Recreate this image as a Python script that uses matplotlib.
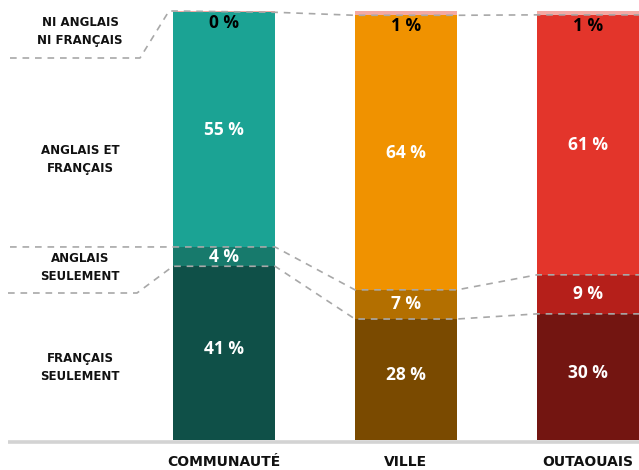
import matplotlib
matplotlib.use("Agg")
import matplotlib.pyplot as plt
import numpy as np

# data (share of population, %)
categories = ["COMMUNAUTÉ", "VILLE", "OUTAOUAIS"]
francais = [40.5, 28.2, 29.4]
anglais = [4.5, 6.8, 9.1]
les_deux = [54.7, 64.0, 60.6]
aucun = [0.3, 1.0, 0.9]

lbl_fr = ["41 %", "28 %", "30 %"]
lbl_en = ["4 %", "7 %", "9 %"]
lbl_both = ["55 %", "64 %", "61 %"]
lbl_none = ["0 %", "1 %", "1 %"]

row_labels = ["FRANÇAIS\nSEULEMENT", "ANGLAIS\nSEULEMENT",
              "ANGLAIS ET\nFRANÇAIS", "NI ANGLAIS\nNI FRANÇAIS"]

col_fr = ["#0f5048", "#7a4a00", "#731511"]
col_en = ["#177a6c", "#b36f00", "#b51f1a"]
col_both = ["#1ba394", "#f09200", "#e3352b"]
col_none = "#f4a9a3"

W, H = 639, 470
fig = plt.figure(figsize=(W / 100, H / 100), dpi=100)
ax = fig.add_axes([0, 0, 1, 1])
ax.set_axis_off()

px = 182.0          # pixels per category unit
py = 4.29           # pixels per percent
x0 = 224.0          # pixel x of first bar centre
y0 = 440.0          # pixel y of baseline
ax.set_xlim(-x0 / px, (W - x0) / px)
ax.set_ylim((y0 - H) / py, y0 / py)

xs = np.arange(len(categories))
bw = 102 / px
fr = np.array(francais)
en = np.array(anglais)
both = np.array(les_deux)
none = np.array(aucun)

ax.bar(xs, fr, bw, color=col_fr, zorder=2)
ax.bar(xs, en, bw, bottom=fr, color=col_en, zorder=2)
ax.bar(xs, both, bw, bottom=fr + en, color=col_both, zorder=2)
ax.bar(xs, none, bw, bottom=fr + en + both, color=col_none, zorder=2)

# baseline
ax.plot([(8 - x0) / px, (W - x0) / px], [-0.55, -0.55], color="#d3d3d3",
        lw=2.6, solid_capstyle="butt", zorder=1)

# dashed connectors between segment boundaries
dash = dict(color="#a8a8a8", lw=1.2, dashes=(4, 3.5), zorder=3)
right_end = (W - x0) / px


def connector(levels):
    xx, yy = [], []
    for i, lv in enumerate(levels):
        xx += [xs[i] - bw / 2, xs[i] + bw / 2]
        yy += [lv, lv]
    xx[-1] = right_end
    return xx, yy


top_lv = fr + en + both
mid_lv = fr + en
low_lv = fr

xx, yy = connector(top_lv)
xx = [(10 - x0) / px, (140 - x0) / px, (169 - x0) / px] + xx
yy = [(y0 - 58) / py, (y0 - 58) / py, 100.0] + [100.0] + yy[1:]
ax.plot(xx, yy, **dash)

xx, yy = connector(mid_lv)
ax.plot([(10 - x0) / px] + xx, [mid_lv[0]] + yy, **dash)

xx, yy = connector(low_lv)
ax.plot([(8 - x0) / px, (137 - x0) / px] + xx,
        [(y0 - 293) / py, (y0 - 293) / py] + yy, **dash)

# value labels
vfont = dict(family=["Open Sans", "DejaVu Sans"], fontsize=12.5,
             fontweight="bold", ha="center", va="center", zorder=4)
for i in range(len(xs)):
    ax.text(xs[i], fr[i] / 2 + 1, lbl_fr[i], color="white", **vfont)
    ax.text(xs[i], fr[i] + en[i] / 2, lbl_en[i], color="white", **vfont)
    ax.text(xs[i], fr[i] + en[i] + both[i] / 2, lbl_both[i], color="white", **vfont)
    ax.text(xs[i], top_lv[i] - 2.6, lbl_none[i], color="black", **vfont)

# row labels on the left
row_y = [17.0, 40.1, 65.5, 95.3]
lx = (80 - x0) / px
for lab, yv in zip(row_labels, row_y):
    ax.text(lx, yv, lab, ha="center", va="center", fontsize=8.5,
            fontweight="bold", linespacing=1.5, color="#111111",
            family=["DejaVu Sans"])

# category labels
for i, c in enumerate(categories):
    ax.text(xs[i], (y0 - 462) / py, c, ha="center", va="center",
            fontsize=10, fontweight="bold", color="#111111")

fig.savefig("out.png", dpi=100)
